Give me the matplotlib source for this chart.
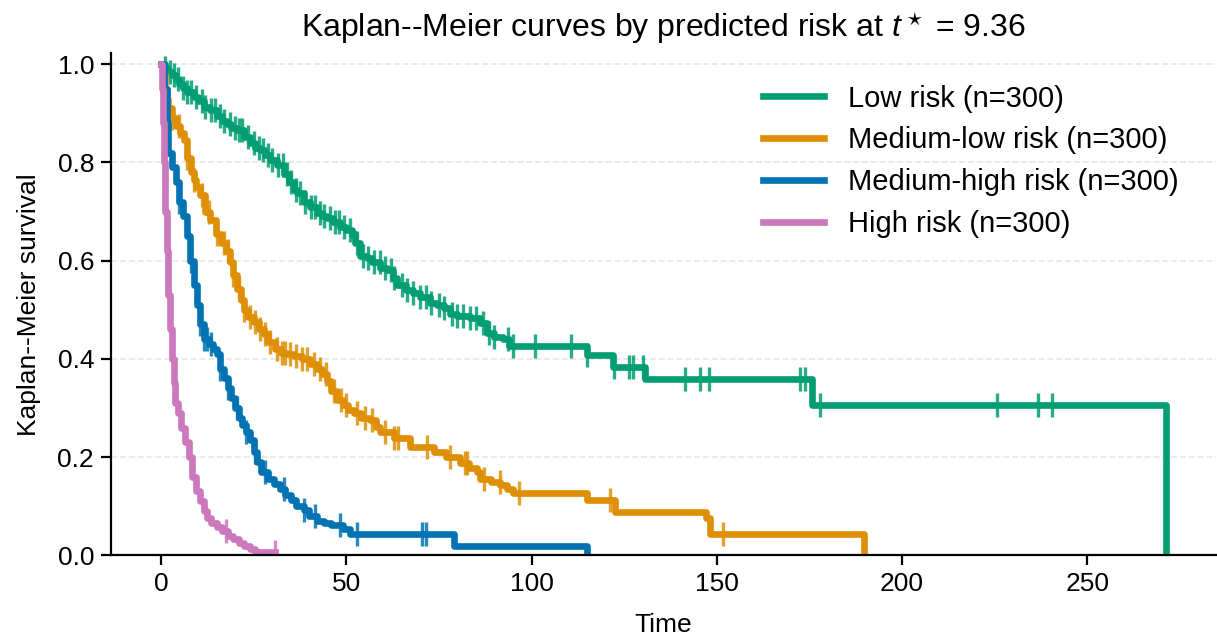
import numpy as np
import matplotlib
matplotlib.use("Agg")
from matplotlib import pyplot as plt

plt.rcParams['font.family'] = ['Liberation Sans', 'DejaVu Sans']
plt.rcParams['mathtext.fontset'] = 'custom'
plt.rcParams['mathtext.rm'] = 'Liberation Sans'
plt.rcParams['mathtext.it'] = 'Liberation Sans:italic'

# KM step knots (time, survival)
low_t = [0, 1, 2, 3, 4, 5, 6, 7, 8.8, 10, 11.5, 13.3, 15, 16.5, 17.8, 19, 20.5, 22.3, 24, 25.5,
         26.8, 28, 29.5, 31.3, 33.1, 34.5, 35.8, 36.7, 38.5, 40.3, 42.1, 43.5, 44.8, 46.5, 48.4,
         50, 51.5, 52.5, 53.8, 55.5, 57, 59.2, 61, 62.5, 63.7, 66, 68, 70, 72.7, 74.5, 76.3,
         78.1, 80, 83.5, 86.2, 88, 90, 92.4, 93.8, 115, 122.1, 130.7, 175.7, 271.3]
low_s = [1.0, 0.993, 0.985, 0.978, 0.97, 0.96, 0.952, 0.943, 0.933, 0.925, 0.913, 0.906, 0.895,
         0.885, 0.879, 0.87, 0.866, 0.852, 0.84, 0.83, 0.825, 0.815, 0.804, 0.795, 0.777, 0.76,
         0.743, 0.737, 0.72, 0.709, 0.696, 0.69, 0.686, 0.678, 0.669, 0.662, 0.655, 0.635, 0.61,
         0.605, 0.598, 0.585, 0.58, 0.565, 0.55, 0.54, 0.535, 0.526, 0.513, 0.509, 0.503, 0.492,
         0.487, 0.484, 0.472, 0.452, 0.445, 0.441, 0.426, 0.407, 0.384, 0.358, 0.305, 0.0]
low_cens = [1, 2.5, 3.5, 4.5, 6, 7, 8, 9.5, 11, 12, 13.5, 14.5, 16, 17, 18.5, 20, 21, 22, 23.5, 25,
            26.5, 27.5, 29, 30, 31.5, 33, 34, 35, 36.5, 37.5, 39, 40.5, 41.5, 43, 44, 45.5, 47,
            48, 49.5, 51, 53, 54.5, 56, 57.5, 59, 60.5, 62, 63, 65, 66.5, 68, 70, 71.5, 73, 75,
            76.5, 78.5, 80, 81.5, 83.5, 85, 87, 88.5, 90, 93.6, 95.1, 101, 110.6, 115.1, 122.3,
            126.2, 127.3, 130.2, 141.3, 145.5, 147.9, 172.5, 173.9, 177.9, 225.5, 236.6, 240.5]

mlow_t = [0, 0.5, 1.0, 1.5, 2.0, 3.0, 4.0, 5.2, 6.1, 7, 8, 8.8, 9.5, 10.6, 12, 13.3, 14.8, 16.3,
          17.5, 18.7, 19.5, 20.5, 21.5, 22.5, 23.5, 25, 26.5, 27.7, 29, 30.8, 32.5, 34, 36, 38,
          40.3, 42, 43.5, 44.8, 46, 47.5, 49, 50.5, 52, 54, 56.5, 58, 59.2, 62.8, 67.3, 73.6, 77,
          80.8, 83, 85.3, 86.2, 89, 91.6, 93.5, 95.1, 115, 122.5, 147, 148.3, 189.7]
mlow_s = [1.0, 0.98, 0.95, 0.93, 0.91, 0.89, 0.875, 0.86, 0.845, 0.81, 0.78, 0.764, 0.75, 0.733,
          0.70, 0.682, 0.655, 0.635, 0.62, 0.598, 0.57, 0.543, 0.52, 0.50, 0.485, 0.475, 0.46,
          0.45, 0.435, 0.421, 0.412, 0.41, 0.405, 0.40, 0.39, 0.38, 0.37, 0.355, 0.335, 0.316,
          0.305, 0.295, 0.289, 0.28, 0.275, 0.262, 0.25, 0.238, 0.22, 0.21, 0.20, 0.187, 0.178,
          0.17, 0.156, 0.15, 0.143, 0.135, 0.127, 0.112, 0.089, 0.075, 0.044, 0.0]
mlow_cens = [3, 5, 7, 9, 11, 13, 15, 17, 18, 19.5, 21, 22.5, 24, 25.5, 26.8, 28, 29.5, 31.2, 32.6,
             33.5, 34.9, 36.5, 38, 39.4, 41.2, 43, 44.5, 46.6, 48.5, 50, 52.9, 55, 57, 60.5, 62.8,
             64, 71.8, 78.1, 82.1, 82.6, 87.2, 91.4, 96.5, 121.2, 151.7]

mhigh_t = [0, 0.7, 1.5, 2.0, 3.0, 4.0, 5.0, 6.0, 7.0, 7.9, 8.8, 9.7, 10.5, 11.5, 13, 14, 15, 16, 17,
           18, 19, 20, 21, 22, 23, 24, 25, 26, 27, 29, 30.5, 32, 33.5, 35, 36.5, 38.5, 40, 42, 44,
           46, 49, 51, 79, 115]
mhigh_s = [1.0, 0.95, 0.88, 0.82, 0.79, 0.76, 0.72, 0.69, 0.65, 0.60, 0.55, 0.51, 0.47, 0.44, 0.43,
           0.42, 0.41, 0.38, 0.36, 0.34, 0.32, 0.30, 0.28, 0.265, 0.25, 0.235, 0.21, 0.19, 0.17,
           0.155, 0.146, 0.135, 0.122, 0.112, 0.10, 0.092, 0.08, 0.07, 0.065, 0.061, 0.053, 0.044,
           0.018, 0.0]
mhigh_cens = [5, 8, 10.5, 11.5, 12.5, 13.5, 16, 18, 20.5, 23, 25.5, 28.2, 33.1, 38.5, 41.6, 48.4,
              52.9, 70.4, 71.6]

high_t = [0, 0.3, 0.6, 0.9, 1.2, 1.5, 2.0, 2.5, 3.0, 3.5, 3.9, 4.5, 5.5, 6.5, 7.5, 8.5, 9.5, 10.5,
          11.5, 12.5, 13.5, 15, 16.5, 18, 19.5, 21, 22.5, 24, 25.5]
high_s = [1.0, 0.95, 0.88, 0.80, 0.70, 0.62, 0.53, 0.46, 0.40, 0.35, 0.31, 0.29, 0.26, 0.23, 0.20,
          0.16, 0.13, 0.11, 0.09, 0.075, 0.065, 0.058, 0.05, 0.04, 0.033, 0.025, 0.018, 0.012, 0.007]
high_cens = [17.5, 30.8]

labels = ['Low risk (n=300)', 'Medium-low risk (n=300)', 'Medium-high risk (n=300)', 'High risk (n=300)']
colors = ['#029E73', '#DE8F05', '#0173B2', '#CC78BC']

groups = [(low_t, low_s, low_cens), (mlow_t, mlow_s, mlow_cens),
          (mhigh_t, mhigh_s, mhigh_cens), (high_t, high_s, high_cens)]

fig = plt.figure(figsize=(6.085, 3.18), dpi=200)
ax = fig.add_axes([0.091, 0.127, 0.9078, 0.789])

for (t, s, cens), lab, col in zip(groups, labels, colors):
    t = np.array(t, float)
    s = np.array(s, float)
    cens = np.array(cens, float)
    # line runs on to the last censored time
    tend = max(t[-1], cens.max())
    tt = np.append(t, tend)
    ss = np.append(s, s[-1])
    ax.step(tt, ss, where='post', color=col, lw=2.4, label=lab, solid_joinstyle='round')
    idx = np.searchsorted(t, cens, side='right') - 1
    ax.plot(cens, s[idx], ls='none', marker='|', ms=8.5, mew=1.2, color=col, alpha=0.85)

ax.set_xlim(-13.55, 284.6)
ax.set_ylim(0, 1.022)
ax.set_xticks([0, 50, 100, 150, 200, 250])
ax.set_yticks([0.0, 0.2, 0.4, 0.6, 0.8, 1.0])
ax.set_yticklabels(['0.0', '0.2', '0.4', '0.6', '0.8', '1.0'])
ax.yaxis.grid(True, ls='--', color='#e6e6e6', lw=0.6)
ax.set_axisbelow(True)
for sp in ['top', 'right']:
    ax.spines[sp].set_visible(False)
ax.spines['left'].set_linewidth(0.8)
ax.spines['bottom'].set_linewidth(0.8)
ax.tick_params(labelsize=9.5, width=0.8, length=3.5, pad=2.5)

ax.set_xlabel('Time', fontsize=9.5, labelpad=6)
ax.set_ylabel('Kaplan--Meier survival', fontsize=9.5, labelpad=6)
ax.set_title('Kaplan--Meier curves by predicted risk at $t^\\star$ = 9.36', fontsize=11.5, pad=6)
ax.legend(loc='upper right', frameon=False, fontsize=10.5, handlelength=2.1,
          labelspacing=0.47, bbox_to_anchor=(0.99, 0.99))

fig.savefig('out.png', dpi=200)
